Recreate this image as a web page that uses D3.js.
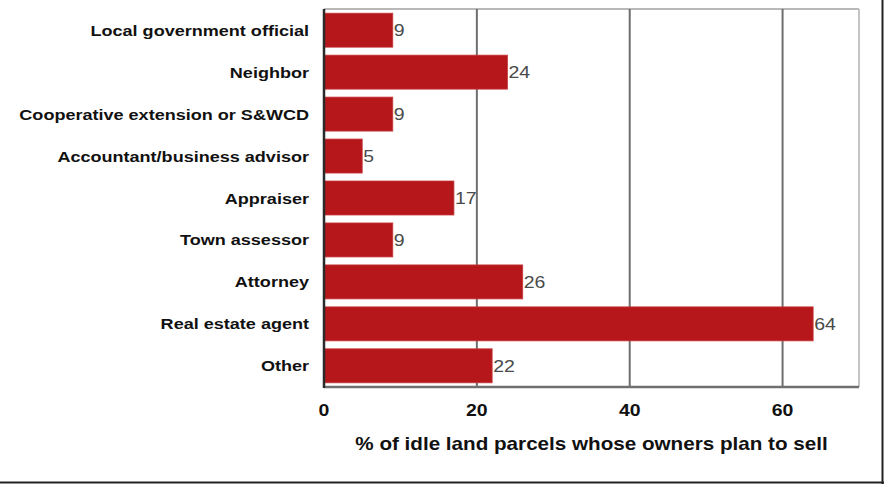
<!DOCTYPE html>
<html>
<head>
<meta charset="utf-8">
<script src="https://cdn.jsdelivr.net/npm/d3@7"></script>
<style>
  html, body { margin: 0; padding: 0; background: #fff; }
  svg { display: block; }
  text { font-family: "Liberation Sans", Arial, Helvetica, sans-serif; }
</style>
</head>
<body>
<svg id="chart" width="884" height="484"></svg>
<script>
// Information sources consulted by owners planning to sell idle land
const categories = [
  "Local government official",
  "Neighbor",
  "Cooperative extension or S&WCD",
  "Accountant/business advisor",
  "Appraiser",
  "Town assessor",
  "Attorney",
  "Real estate agent",
  "Other"
];
const values = [9, 24, 9, 5, 17, 9, 26, 64, 22];
const xTicks = [0, 20, 40, 60];
const axisTitle = "% of idle land parcels whose owners plan to sell";

const W = 884, H = 484;
const plot = { left: 324, right: 859, top: 9, bottom: 387 };
const stretch = 1.18; // wide type

const svg = d3.select("#chart");

const x = d3.scaleLinear().domain([0, 70]).range([plot.left, plot.right]);
const y = d3.scaleBand().domain(categories).range([plot.top, plot.bottom])
  .paddingInner(0.19).paddingOuter(0.1);

// frame shadow on right and bottom
svg.append("line").attr("x1", W - 1.5).attr("x2", W - 1.5).attr("y1", 0).attr("y2", H)
  .attr("stroke", "#222").attr("stroke-width", 2);
svg.append("line").attr("x1", 0).attr("x2", W).attr("y1", H - 1.5).attr("y2", H - 1.5)
  .attr("stroke", "#222").attr("stroke-width", 2);

// plot box: light top/right edges
svg.append("line").attr("x1", plot.left).attr("x2", plot.right).attr("y1", plot.top).attr("y2", plot.top)
  .attr("stroke", "#b8b8b8").attr("stroke-width", 2);
svg.append("line").attr("x1", plot.right).attr("x2", plot.right).attr("y1", plot.top).attr("y2", plot.bottom)
  .attr("stroke", "#c4c4c4").attr("stroke-width", 2);

// vertical gridlines
svg.append("g").selectAll("line").data(xTicks.filter(d => d > 0)).join("line")
  .attr("x1", d => x(d)).attr("x2", d => x(d))
  .attr("y1", plot.top).attr("y2", plot.bottom)
  .attr("stroke", "#6e6e6e").attr("stroke-width", 2);

// bars
svg.append("g").selectAll("rect").data(categories).join("rect")
  .attr("x", x(0))
  .attr("y", d => y(d))
  .attr("width", (d, i) => x(values[i]) - x(0))
  .attr("height", y.bandwidth())
  .attr("fill", "#b5171b")
  .attr("stroke", "#c63a3c").attr("stroke-width", 0.8);

// axes lines
svg.append("line").attr("x1", plot.left).attr("x2", plot.right).attr("y1", plot.bottom).attr("y2", plot.bottom)
  .attr("stroke", "#707070").attr("stroke-width", 2.5);
svg.append("line").attr("x1", plot.left).attr("x2", plot.left).attr("y1", plot.top).attr("y2", plot.bottom + 1)
  .attr("stroke", "#2a2a2a").attr("stroke-width", 2.5);

function wideText(g, tx, ty) {
  return g.attr("transform", `translate(${tx},${ty}) scale(${stretch},1)`);
}

// value labels
svg.append("g").selectAll("text").data(categories).join("text")
  .each(function(d, i) {
    wideText(d3.select(this), x(values[i]) + 1, y(d) + y.bandwidth() / 2 + 6);
  })
  .attr("font-size", 16.5)
  .attr("fill", "#4a4a4a")
  .text((d, i) => values[i]);

// category labels
svg.append("g").selectAll("text").data(categories).join("text")
  .each(function(d) {
    wideText(d3.select(this), 309, y(d) + y.bandwidth() / 2 + 5.5);
  })
  .attr("text-anchor", "end")
  .attr("font-size", 15.3)
  .attr("font-weight", "bold")
  .attr("fill", "#111")
  .text(d => d);

// x tick labels
svg.append("g").selectAll("text").data(xTicks).join("text")
  .each(function(d) { wideText(d3.select(this), x(d), 416); })
  .attr("text-anchor", "middle")
  .attr("font-size", 16.5)
  .attr("font-weight", "bold")
  .attr("fill", "#111")
  .text(d => d);

// axis title
wideText(svg.append("text"), (plot.left + plot.right) / 2, 450)
  .attr("text-anchor", "middle")
  .attr("font-size", 17.5)
  .attr("font-weight", "bold")
  .attr("fill", "#111")
  .text(axisTitle);
</script>
</body>
</html>
